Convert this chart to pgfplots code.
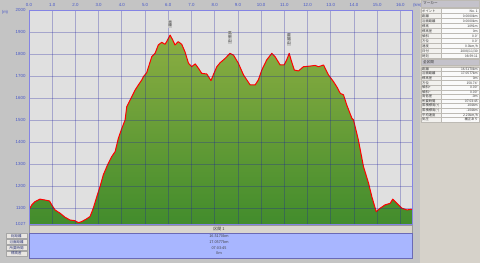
\documentclass[border=0pt]{standalone}
\usepackage{pgfplots}
\pgfplotsset{compat=1.18}
\usepackage{pgfplotstable}
\usepackage{fontspec}
\setmainfont{Liberation Sans}
\newfontfamily\cjk{Noto Sans CJK JP}
\definecolor{outerbg}{HTML}{C4C4C4}
\definecolor{panelbg}{HTML}{D6D2CA}
\definecolor{plotbg}{HTML}{E0E0E0}
\definecolor{gridc}{HTML}{1E1EA0}
\definecolor{axisc}{HTML}{8484E4}
\definecolor{ticklab}{HTML}{4858C8}
\definecolor{gtop}{HTML}{8CAE42}
\definecolor{gbot}{HTML}{428C2C}
\definecolor{infobg}{HTML}{A8B6FF}
\definecolor{barbg}{HTML}{DAD6CE}
\definecolor{hdrbg}{HTML}{C4C2CA}
\definecolor{cellA}{HTML}{F2F1EE}
\definecolor{cellB}{HTML}{FAFAFA}
\definecolor{cellline}{HTML}{BDBAB4}

\pgfplotstableread{
km elev
0.00 1091
0.12 1114
0.26 1129
0.47 1140
0.69 1136
0.88 1132
0.98 1114
1.12 1091
1.34 1076
1.55 1058
1.77 1045
1.98 1042
2.13 1033
2.27 1038
2.46 1049
2.63 1061
2.77 1099
2.92 1151
3.06 1197
3.20 1250
3.38 1295
3.56 1333
3.71 1356
3.85 1417
4.00 1462
4.14 1500
4.21 1560
4.43 1606
4.57 1636
4.71 1659
4.86 1682
4.93 1697
5.07 1715
5.22 1765
5.29 1788
5.43 1803
5.57 1841
5.72 1853
5.86 1844
5.93 1856
6.08 1886
6.19 1864
6.29 1841
6.43 1856
6.58 1844
6.72 1810
6.87 1758
7.01 1742
7.16 1755
7.30 1735
7.44 1712
7.66 1709
7.84 1679
7.94 1705
8.09 1742
8.23 1760
8.45 1780
8.66 1803
8.81 1795
9.02 1758
9.24 1705
9.53 1659
9.74 1659
9.88 1682
10.03 1727
10.24 1773
10.46 1803
10.60 1788
10.82 1750
10.99 1750
11.10 1773
11.21 1803
11.29 1773
11.43 1727
11.61 1723
11.82 1742
12.11 1745
12.33 1748
12.47 1742
12.69 1750
12.90 1705
13.12 1674
13.26 1651
13.41 1621
13.55 1614
13.69 1568
13.91 1508
13.98 1500
14.19 1409
14.41 1288
14.63 1212
14.77 1151
14.96 1083
15.13 1099
15.34 1114
15.56 1121
15.67 1140
15.85 1121
16.06 1099
16.28 1091
16.49 1094
}\prof

% panel row: y-centre, half height, label, value
\newcommand{\prow}[4]{%
  \begin{scope}[yshift=#1pt]
    \filldraw[fill=cellA, draw=cellline, line width=0.2pt] (421pt,-#2pt) rectangle (441pt,#2pt);
    \filldraw[fill=cellB, draw=cellline, line width=0.2pt] (441pt,-#2pt) rectangle (479pt,#2pt);
    \node[anchor=west, inner sep=0pt, font=\cjk\fontsize{3.3}{3.5}\selectfont, text=black!80] at (422pt,0pt) {#3};
    \node[anchor=east, inner sep=0pt, font=\cjk\fontsize{3.3}{3.5}\selectfont, text=black!80] at (478pt,0pt) {#4};
  \end{scope}}
\newcommand{\blab}[3]{% y-centre, label, value
  \filldraw[fill=barbg!60, draw=gray!70, line width=0.2pt] (6pt,#1pt-2.5pt) rectangle (27pt,#1pt+2.5pt);
  \node[inner sep=0pt, font=\cjk\fontsize{3.5}{3.7}\selectfont, text=ticklab!60!black] at (16.5pt,#1pt) {#2};
  \node[inner sep=0pt, font=\cjk\fontsize{3.8}{4}\selectfont, text=black!75] at (219pt,#1pt) {#3};}

\pgfplotsset{profaxis/.style={
  at={(29pt,39pt)}, anchor=south west,
  scale only axis, width=383pt, height=214pt,
  xmin=0, xmax=16.5, ymin=1027, ymax=2000,
  xtick={0,1,...,16},
  ytick={1027,1100,1200,1300,1400,1500,1600,1700,1800,1900,2000},
  major tick length=0pt,
  axis line style={draw=axisc, line width=0.9pt},
}}

\begin{document}
\begin{tikzpicture}
\useasboundingbox (0,0) rectangle (480pt,263pt);
\fill[outerbg] (0,0) rectangle (480pt,263pt);
\fill[panelbg] (420pt,0) rectangle (480pt,263pt);

% bottom section bar and info panel
\filldraw[fill=barbg, draw=gray!80, line width=0.3pt] (29pt,30pt) rectangle (412pt,38pt);
\node[inner sep=0pt, font=\cjk\fontsize{4}{4.2}\selectfont, text=black!80] at (219pt,34pt) {区間 1};
\filldraw[fill=infobg, draw=axisc!80!black, line width=0.4pt] (29pt,5pt) rectangle (412pt,30pt);
\blab{27}{総距離}{16.5170km}
\blab{21}{沿面距離}{17.0577km}
\blab{15}{所要時間}{07:03:45}
\blab{9.5}{標高差}{0m}

% right panel
\filldraw[fill=hdrbg, draw=cellline, line width=0.2pt] (421pt,256pt) rectangle (479pt,263pt);
\node[anchor=west, inner sep=0pt, font=\cjk\fontsize{3.6}{3.8}\selectfont, text=black!80] at (423pt,259.5pt) {マーカー};
\prow{252}{2.5}{ポイント}{No. 1}
\prow{247}{2.5}{距離}{0.0000km}
\prow{242}{2.5}{沿面距離}{0.0000km}
\prow{237}{2.5}{標高}{1091m}
\prow{232}{2.5}{標高差}{0m}
\prow{227}{2.5}{傾斜}{0.0°}
\prow{222}{2.5}{方位}{0.0°}
\prow{217}{2.5}{速度}{0.0km/h}
\prow{212}{2.5}{日付}{2008/11/30}
\prow{207}{2.5}{時刻}{08:59:11}
\filldraw[fill=hdrbg, draw=cellline, line width=0.2pt] (421pt,197.5pt) rectangle (479pt,204.2pt);
\node[anchor=west, inner sep=0pt, font=\cjk\fontsize{3.6}{3.8}\selectfont, text=black!80] at (423pt,200.8pt) {全区間};
\prow{194}{2.3}{距離}{16.5170km}
\prow{189.4}{2.3}{沿面距離}{17.0577km}
\prow{184.8}{2.3}{標高差}{0m}
\prow{180.2}{2.3}{方位}{158.74°}
\prow{175.6}{2.3}{傾斜+}{0.00°}
\prow{171}{2.3}{傾斜−}{0.00°}
\prow{166.4}{2.3}{高低差}{-0m}
\prow{161.8}{2.3}{所要時間}{07:03:45}
\prow{157.2}{2.3}{累積標高(+)}{1044m}
\prow{152.6}{2.3}{累積標高(−)}{-1044m}
\prow{148}{2.3}{平均速度}{2.20km/h}
\prow{143.4}{2.3}{気圧}{補正あり}

\node[inner sep=0pt, font=\fontsize{4.2}{4.4}\selectfont, text=ticklab] at (5pt,251pt) {(m)};
\node[anchor=west, inner sep=0pt, font=\fontsize{4.2}{4.4}\selectfont, text=ticklab] at (413pt,257.5pt) {(km)};

% data axis
\begin{axis}[
  profaxis,
  axis background/.style={fill=plotbg},
  xticklabel pos=upper,
  tick label style={font=\fontsize{4.4}{4.6}\selectfont, text=ticklab},
  /pgf/number format/assume math mode=true,
  x tick label style={/pgf/number format/.cd, fixed, fixed zerofill, precision=1},
  y tick label style={/pgf/number format/.cd, fixed, 1000 sep={}},
]
\addplot[draw=none, top color=gtop, bottom color=gbot] table[x=km, y=elev] {\prof} \closedcycle;
\addplot[draw=red, line width=1pt, line join=round] table[x=km, y=elev] {\prof};
\end{axis}

% grid overlay axis
\begin{axis}[
  profaxis,
  xticklabels={}, yticklabels={},
  grid=major,
  major grid style={draw=gridc, draw opacity=0.3, line width=0.7pt},
]
\addplot[draw=none, forget plot] coordinates {(0,1027)};
\node[fill=gray!45, inner sep=0.5pt, font=\cjk\fontsize{3.6}{3.9}\selectfont, align=center, text=black!75] at (axis cs:6.08,1938) {大\\峰};
\node[fill=gray!45, inner sep=0.5pt, font=\cjk\fontsize{3.6}{3.9}\selectfont, align=center, text=black!75] at (axis cs:8.66,1875) {鳥\\甲\\山};
\node[fill=gray!45, inner sep=0.5pt, font=\cjk\fontsize{3.6}{3.9}\selectfont, align=center, text=black!75] at (axis cs:11.2,1866) {苗\\場\\山};
\end{axis}
\end{tikzpicture}
\end{document}
